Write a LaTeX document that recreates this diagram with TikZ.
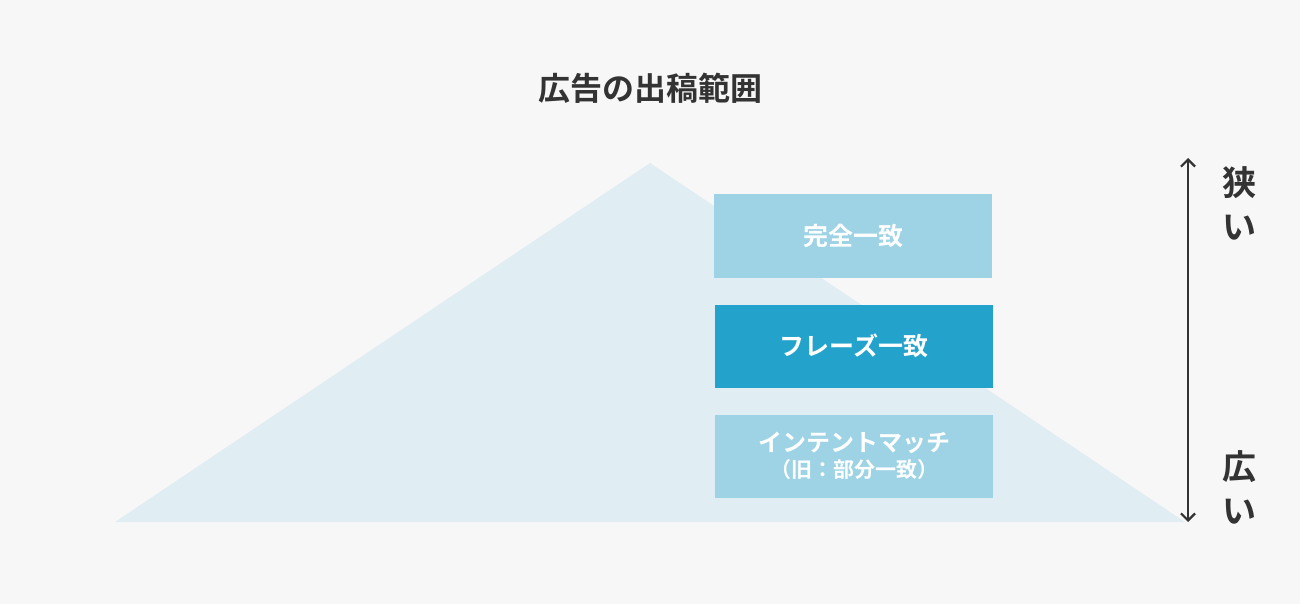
\documentclass[tikz,border=0pt]{standalone}
\usepackage{fontspec}
\setmainfont{Noto Sans CJK JP}
\newfontfamily\jpbold{Noto Sans CJK JP Bold}
\usetikzlibrary{positioning,arrows.meta}
\definecolor{bgray}{HTML}{F7F7F7}
\definecolor{mount}{HTML}{E0EEF3}
\definecolor{palebox}{HTML}{9DD3E5}
\definecolor{deepbox}{HTML}{23A3CB}
\definecolor{ink}{HTML}{333333}
\begin{document}
\begin{tikzpicture}[x=1pt,y=-1pt,
    >={Straight Barb[length=7pt,width=14pt]},
    mb/.style={%
      rectangle, draw=none, fill=palebox, text=white, align=center,
      minimum width=278pt, minimum height=83pt, inner sep=0pt,
      font=\jpbold\fontsize{25}{29}\selectfont
    },
    side/.style={%
      align=center, text=ink, font=\jpbold\fontsize{34}{44}\selectfont
    },
]
    \fill[bgray] (0,0) rectangle (1300,604);
    \fill[mount] (115,522) -- (650,163) -- (1185,522) -- cycle;
    \node[text=ink, font=\jpbold\fontsize{32}{36}\selectfont] (title) at (650,88) {広告の出稿範囲};
    \node[mb]  (exact)  at (853,236) {完全一致};
    \node[mb, fill=deepbox] (phrase) at (854,346) {フレーズ一致};
    \node[mb, font=\jpbold\fontsize{24}{29}\selectfont] (intent) at (854,456) {インテントマッチ\\[-3pt]{\fontsize{21}{25}\selectfont（旧：部分一致）}};
    \coordinate (top) at (1188,158);
    \coordinate (bot) at (1188,522);
    \draw[<->, ink, line width=2.2pt] (top) -- (bot);
    \node[side] (narrow) at (1239,203) {狭\\い};
    \node[side] (wide)   at (1239,487) {広\\い};
\end{tikzpicture}
\end{document}
